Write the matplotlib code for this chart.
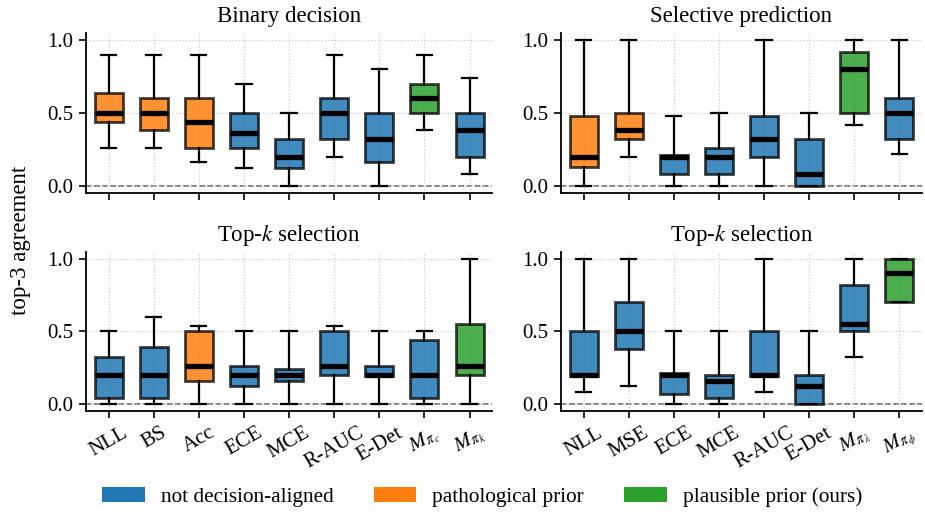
import matplotlib
matplotlib.use("Agg")
import matplotlib.pyplot as plt
from matplotlib.patches import Patch

plt.rcParams['font.family'] = ['Liberation Serif', 'DejaVu Serif']
plt.rcParams['mathtext.fontset'] = 'stix'

# ---------------- data ----------------
labels_left = ['NLL', 'BS', 'Acc', 'ECE', 'MCE', 'R-AUC', 'E-Det', r'$M_{\pi_c}$', r'$M_{\pi_k}$']
labels_right = ['NLL', 'MSE', 'ECE', 'MCE', 'R-AUC', 'E-Det', r'$M_{\pi_\lambda}$', r'$M_{\pi_\phi}$']

# Binary decision (top-left)
bd_lo  = [0.26, 0.26, 0.16, 0.12, 0.00, 0.20, 0.00, 0.38, 0.08]
bd_q1  = [0.44, 0.38, 0.26, 0.26, 0.12, 0.32, 0.16, 0.50, 0.20]
bd_med = [0.50, 0.50, 0.44, 0.36, 0.20, 0.50, 0.32, 0.60, 0.38]
bd_q3  = [0.64, 0.60, 0.60, 0.50, 0.32, 0.60, 0.50, 0.70, 0.50]
bd_hi  = [0.90, 0.90, 0.90, 0.70, 0.50, 0.90, 0.80, 0.90, 0.74]
bd_cat = ['path', 'path', 'path', 'not', 'not', 'not', 'not', 'plaus', 'not']

# Selective prediction (top-right)
sp_lo  = [0.00, 0.20, 0.00, 0.00, 0.00, 0.00, 0.42, 0.22]
sp_q1  = [0.13, 0.32, 0.08, 0.08, 0.20, 0.00, 0.50, 0.32]
sp_med = [0.20, 0.38, 0.20, 0.20, 0.32, 0.08, 0.80, 0.50]
sp_q3  = [0.48, 0.50, 0.21, 0.26, 0.48, 0.32, 0.92, 0.60]
sp_hi  = [1.00, 1.00, 0.48, 0.50, 1.00, 0.50, 1.00, 1.00]
sp_cat = ['path', 'path', 'not', 'not', 'not', 'not', 'plaus', 'not']

# Top-k selection (bottom-left)
tkl_lo  = [0.00, 0.00, 0.00, 0.00, 0.00, 0.00, 0.00, 0.00, 0.00]
tkl_q1  = [0.04, 0.04, 0.16, 0.12, 0.16, 0.20, 0.19, 0.04, 0.20]
tkl_med = [0.20, 0.20, 0.26, 0.20, 0.20, 0.26, 0.20, 0.20, 0.26]
tkl_q3  = [0.32, 0.39, 0.50, 0.26, 0.24, 0.50, 0.26, 0.44, 0.55]
tkl_hi  = [0.50, 0.60, 0.54, 0.50, 0.50, 0.54, 0.50, 0.50, 1.00]
tkl_cat = ['not', 'not', 'path', 'not', 'not', 'not', 'not', 'not', 'plaus']

# Top-k selection (bottom-right)
tkr_lo  = [0.08, 0.12, 0.00, 0.00, 0.08, 0.00, 0.32, 0.70]
tkr_q1  = [0.19, 0.38, 0.07, 0.04, 0.19, 0.00, 0.50, 0.70]
tkr_med = [0.20, 0.50, 0.20, 0.16, 0.20, 0.12, 0.55, 0.90]
tkr_q3  = [0.50, 0.70, 0.21, 0.20, 0.50, 0.20, 0.82, 1.00]
tkr_hi  = [1.00, 1.00, 0.50, 0.50, 1.00, 0.50, 1.00, 1.00]
tkr_cat = ['not', 'not', 'not', 'not', 'not', 'not', 'not', 'plaus']

legend_labels = ['not decision-aligned', 'pathological prior', 'plausible prior (ours)']

colors = {'not': '#1f77b4', 'path': '#ff7f0e', 'plaus': '#2ca02c'}

# ---------------- figure ----------------
fig = plt.figure(figsize=(9.25, 5.17), dpi=100)


def draw(ax, lo, q1, med, q3, hi, cats, title, labels, show_labels):
    stats = []
    for a, b, c, d, e in zip(lo, q1, med, q3, hi):
        stats.append(dict(whislo=a, q1=b, med=c, q3=d, whishi=e, fliers=[]))
    pos = list(range(1, len(stats) + 1))
    bp = ax.bxp(stats, positions=pos, widths=0.62, patch_artist=True,
                showfliers=False,
                boxprops=dict(linewidth=2.0),
                medianprops=dict(color='black', linewidth=3.8, solid_capstyle='butt'),
                whiskerprops=dict(color='black', linewidth=1.6),
                capprops=dict(color='black', linewidth=1.6),
                capwidths=0.34)
    for patch, cat in zip(bp['boxes'], cats):
        r, g, b_ = matplotlib.colors.to_rgb(colors[cat])
        patch.set_facecolor((r, g, b_, 0.85))
        patch.set_edgecolor((0, 0, 0, 0.75))
    ax.axhline(0, color='#555555', linestyle='--', linewidth=1.1, zorder=0.5)
    ax.set_xlim(0.5, len(stats) + 0.5)
    ax.set_ylim(-0.05, 1.05)
    ax.set_yticks([0.0, 0.5, 1.0])
    ax.set_yticklabels(['0.0', '0.5', '1.0'])
    ax.set_xticks(pos)
    if show_labels:
        ax.set_xticklabels(labels, rotation=30, ha='center')
    else:
        ax.set_xticklabels([])
    ax.grid(True, linestyle=':', color='#cccccc', linewidth=0.9)
    ax.set_axisbelow(True)
    for s in ['top', 'right']:
        ax.spines[s].set_visible(False)
    for s in ['left', 'bottom']:
        ax.spines[s].set_linewidth(1.3)
    ax.tick_params(axis='both', labelsize=15, length=5, width=1.2, pad=4)
    ax.tick_params(axis='x', labelsize=15)
    ax.set_title(title, fontsize=16.5, pad=8)


ax1 = fig.add_axes([0.093, 0.627, 0.439, 0.309])
draw(ax1, bd_lo, bd_q1, bd_med, bd_q3, bd_hi, bd_cat, 'Binary decision', labels_left, False)
ax2 = fig.add_axes([0.6065, 0.627, 0.390, 0.309])
draw(ax2, sp_lo, sp_q1, sp_med, sp_q3, sp_hi, sp_cat, 'Selective prediction', labels_right, False)
ax3 = fig.add_axes([0.093, 0.205, 0.439, 0.308])
draw(ax3, tkl_lo, tkl_q1, tkl_med, tkl_q3, tkl_hi, tkl_cat, 'Top-$k$ selection', labels_left, True)
ax4 = fig.add_axes([0.6065, 0.205, 0.390, 0.308])
draw(ax4, tkr_lo, tkr_q1, tkr_med, tkr_q3, tkr_hi, tkr_cat, 'Top-$k$ selection', labels_right, True)

fig.text(0.022, 0.536, 'top-3 agreement', rotation=90, va='center', ha='center', fontsize=16.5)

handles = [Patch(facecolor=colors[k], edgecolor='none') for k in ['not', 'path', 'plaus']]
fig.legend(handles, legend_labels, loc='lower center', ncol=3, frameon=False,
           fontsize=15.3, bbox_to_anchor=(0.521, -0.018), columnspacing=1.9,
           handletextpad=0.75, handlelength=2.0)

fig.savefig('out.png', dpi=100)
